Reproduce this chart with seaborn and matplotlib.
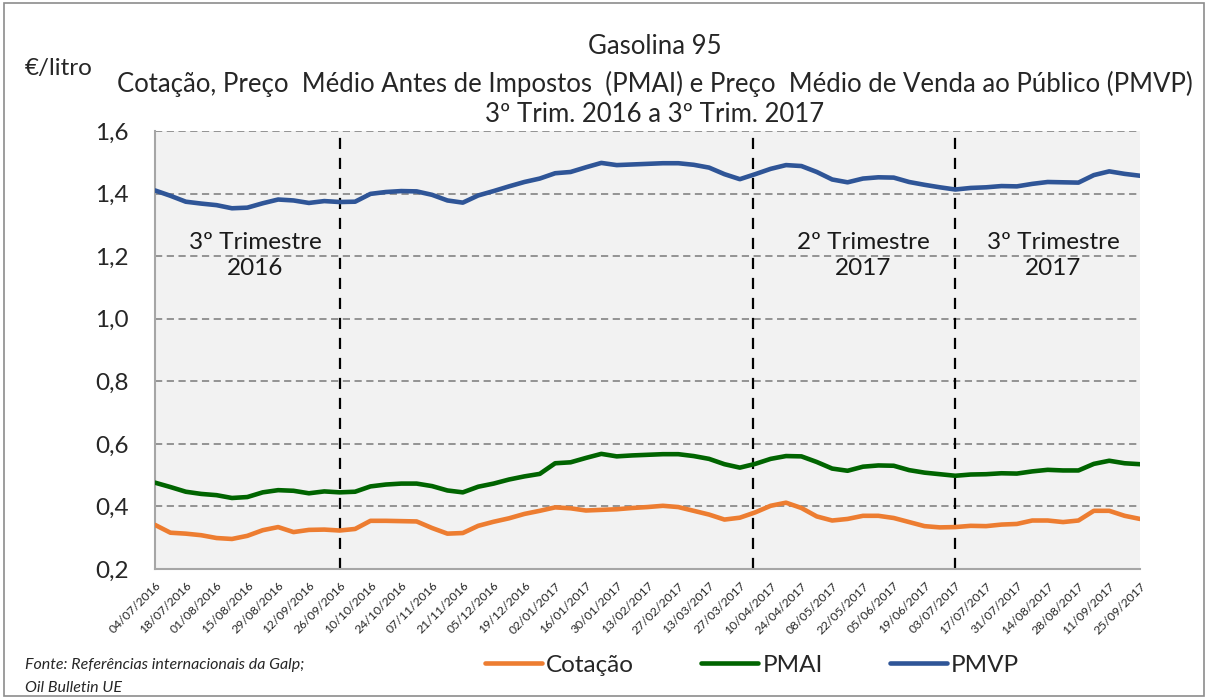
import numpy as np
import pandas as pd
import matplotlib
matplotlib.use('Agg')
import matplotlib.pyplot as plt
from matplotlib.patches import Rectangle
import seaborn as sns

# ---------------------------------------------------------------------------
# Dados (€/litro, semanal)
# ---------------------------------------------------------------------------
semanas = pd.date_range('2016-07-04', '2017-09-25', freq='7D')

cotacao = [0.341, 0.316, 0.313, 0.308, 0.299, 0.296, 0.306, 0.324, 0.334, 0.318,
           0.325, 0.326, 0.323, 0.328, 0.354, 0.354, 0.353, 0.352, 0.331, 0.313,
           0.315, 0.338, 0.351, 0.362, 0.376, 0.386, 0.397, 0.394, 0.387, 0.389,
           0.391, 0.395, 0.398, 0.402, 0.398, 0.386, 0.374, 0.358, 0.364, 0.381,
           0.402, 0.412, 0.395, 0.368, 0.355, 0.360, 0.370, 0.370, 0.363, 0.350,
           0.337, 0.333, 0.334, 0.338, 0.337, 0.342, 0.344, 0.355, 0.355, 0.350,
           0.355, 0.386, 0.386, 0.370, 0.360]

pmai = [0.476, 0.462, 0.447, 0.440, 0.436, 0.427, 0.430, 0.445, 0.452, 0.450,
        0.442, 0.448, 0.445, 0.447, 0.464, 0.470, 0.473, 0.473, 0.465, 0.451,
        0.445, 0.463, 0.473, 0.486, 0.496, 0.504, 0.538, 0.541, 0.555, 0.568,
        0.560, 0.563, 0.565, 0.567, 0.567, 0.561, 0.552, 0.535, 0.524, 0.536,
        0.552, 0.561, 0.560, 0.542, 0.521, 0.514, 0.527, 0.531, 0.530, 0.516,
        0.508, 0.503, 0.498, 0.502, 0.503, 0.506, 0.505, 0.512, 0.517, 0.515,
        0.515, 0.536, 0.546, 0.538, 0.535]

pmvp = [1.410, 1.393, 1.374, 1.368, 1.363, 1.353, 1.355, 1.369, 1.381, 1.378,
        1.370, 1.376, 1.373, 1.374, 1.399, 1.405, 1.408, 1.407, 1.396, 1.378,
        1.371, 1.394, 1.408, 1.423, 1.437, 1.448, 1.465, 1.469, 1.484, 1.498,
        1.491, 1.493, 1.495, 1.497, 1.497, 1.492, 1.483, 1.462, 1.446, 1.462,
        1.479, 1.491, 1.488, 1.469, 1.445, 1.436, 1.448, 1.452, 1.451, 1.437,
        1.428, 1.420, 1.413, 1.418, 1.420, 1.424, 1.423, 1.431, 1.437, 1.436,
        1.435, 1.459, 1.471, 1.463, 1.457]

series = ['Cotação', 'PMAI', 'PMVP']
cores = {'Cotação': '#ED7D31', 'PMAI': '#006400', 'PMVP': '#2F5597'}

# separadores de trimestre (posição na série semanal) e rótulos
separadores = [12, 38.85, 52]
trimestres = [(6.5, '3º Trimestre\n2016'), (46.0, '2º Trimestre\n2017'), (58.35, '3º Trimestre\n2017')]

yticks = [0.2, 0.4, 0.6, 0.8, 1.0, 1.2, 1.4, 1.6]

# ---------------------------------------------------------------------------
# Tabela longa para o seaborn
# ---------------------------------------------------------------------------
idx = np.arange(len(semanas))
df = pd.concat([
    pd.DataFrame({'idx': idx, 'valor': vals, 'serie': nome})
    for nome, vals in zip(series, [cotacao, pmai, pmvp])
], ignore_index=True)

sns.set_style('white')
plt.rcParams['font.family'] = ['Lato', 'DejaVu Sans']

FS = 17.5

fig = plt.figure(figsize=(12.08, 6.98), dpi=100)
ax = fig.add_axes([155 / 1208, 1 - 569 / 698, (1140 - 155) / 1208, (569 - 131) / 698])
ax.set_facecolor('#F2F2F2')

sns.lineplot(data=df, x='idx', y='valor', hue='serie', hue_order=series,
             palette=cores, linewidth=3.3, ax=ax, zorder=3)

handles, labels = ax.get_legend_handles_labels()
ax.get_legend().remove()

# grelha tracejada
for y in yticks[1:]:
    ax.axhline(y, color='#8C8C8C', linestyle=(0, (4, 2.5)), linewidth=1.3, zorder=1)

for xv in separadores:
    ax.axvline(xv, color='black', linestyle=(0, (5, 4)), linewidth=1.6, zorder=2)

for xv, txt in trimestres:
    ax.text(xv, 1.202, txt, ha='center', va='center', fontsize=FS,
            linespacing=1.32, color='#1a1a1a')

ax.set_xlim(0, len(semanas) - 1)
ax.set_ylim(0.2, 1.6)
ax.set_yticks(yticks)
ax.set_yticklabels([f'{v:.1f}'.replace('.', ',') for v in yticks], fontsize=FS)
ax.set_xticks(idx[::2])
ax.set_xticklabels([d.strftime('%d/%m/%Y') for d in semanas[::2]],
                   rotation=45, ha='right', rotation_mode='anchor', fontsize=8.8)
ax.tick_params(axis='x', length=5, color='#A6A6A6', width=1.3, pad=3)
ax.tick_params(axis='y', length=5, color='#A6A6A6', width=1.3, pad=14)
ax.set_xlabel('')
ax.set_ylabel('')

for s in ['top', 'right']:
    ax.spines[s].set_visible(False)
for s in ['left', 'bottom']:
    ax.spines[s].set_color('#A6A6A6')
    ax.spines[s].set_linewidth(1.5)

# títulos
fig.text(655 / 1208, 1 - 47 / 698, 'Gasolina 95', ha='center', va='center', fontsize=18.5)
fig.text(655 / 1208, 1 - 84 / 698,
         'Cotação, Preço  Médio Antes de Impostos  (PMAI) e Preço  Médio de Venda ao Público (PMVP)',
         ha='center', va='center', fontsize=18.5)
fig.text(655 / 1208, 1 - 115 / 698, '3º Trim. 2016 a 3º Trim. 2017', ha='center', va='center', fontsize=18.5)
fig.text(25 / 1208, 1 - 68 / 698, '€/litro', ha='left', va='center', fontsize=FS)

# fonte
fig.text(25 / 1208, 1 - 665 / 698, 'Fonte: Referências internacionais da Galp;',
         ha='left', va='center', fontsize=11.5, style='italic')
fig.text(25 / 1208, 1 - 688 / 698, 'Oil Bulletin UE',
         ha='left', va='center', fontsize=11.5, style='italic')

leg = fig.legend(handles, labels, loc='center', bbox_to_anchor=(752 / 1208, 1 - 665 / 698),
                 ncol=3, frameon=False, fontsize=FS, handlelength=2.35,
                 handletextpad=0.17, columnspacing=2.75)
for line in leg.get_lines():
    line.set_linewidth(3.3)

# moldura do gráfico
fig.patches.append(Rectangle((0.003, 0.003), 0.994, 0.992, transform=fig.transFigure,
                             fill=False, edgecolor='#8C8C8C', linewidth=1.2))

fig.savefig('out.png', dpi=100)
plt.close(fig)
